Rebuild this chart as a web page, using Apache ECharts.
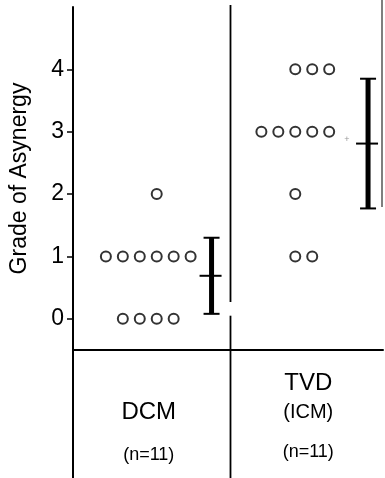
<!DOCTYPE html>
<html>
<head>
<meta charset="utf-8">
<script src="https://cdn.jsdelivr.net/npm/echarts@6/dist/echarts.min.js"></script>
<style>
  html, body { margin: 0; padding: 0; background: #fff; }
  #chart { width: 385px; height: 478px; }
</style>
</head>
<body>
<div id="chart"></div>
<script>
// data
const groups = ['DCM', 'TVD'];
const groupSubtitles = ['', '(ICM)'];
const groupCounts = ['(n=11)', '(n=11)'];
const dcmGrades = [0, 0, 0, 0, 1, 1, 1, 1, 1, 1, 2];
const tvdGrades = [1, 1, 2, 3, 3, 3, 3, 3, 4, 4, 4];
const groupMeans = [0.69, 2.81];
const groupSds = [0.61, 1.04];
const yTicks = [0, 1, 2, 3, 4];

// layout (x axis runs in pixels from the left axis)
const slotSpacing = 17;
const dcmSlotStart = 33;
const tvdSlotStart = 189;
const dcmFirstSlot = { 0: 1, 1: 0, 2: 3 };
const tvdFirstSlot = { 1: 2, 2: 2, 3: 0, 4: 2 };
const barX = [139, 296];
const groupCenterX = [76, 236];
const dividerX = 158;

const FONT = '"Liberation Sans", Arial, Helvetica, sans-serif';

function dotPoints(grades, start, firstSlot) {
  const used = {};
  return grades.map(function (g) {
    const k = used[g] || 0;
    used[g] = k + 1;
    return [start + (firstSlot[g] + k) * slotSpacing, g];
  });
}

const dots = dotPoints(dcmGrades, dcmSlotStart, dcmFirstSlot)
  .concat(dotPoints(tvdGrades, tvdSlotStart, tvdFirstSlot));

const barData = groups.map(function (g, i) {
  return [barX[i], groupMeans[i], groupMeans[i] - groupSds[i], groupMeans[i] + groupSds[i]];
});

const chart = echarts.init(document.getElementById('chart'));

chart.setOption({
  backgroundColor: '#fff',
  animation: false,
  grid: { left: 72, right: 2, top: 7, bottom: 128 },
  xAxis: {
    type: 'value',
    min: 0,
    max: 311,
    axisLine: { show: true, onZero: false, lineStyle: { color: '#000', width: 2 } },
    axisTick: { show: false },
    axisLabel: { show: false },
    splitLine: { show: false }
  },
  yAxis: {
    type: 'value',
    min: -0.5,
    max: 5,
    name: 'Grade of Asynergy',
    nameLocation: 'middle',
    nameGap: 42,
    nameTextStyle: { color: '#000', fontSize: 23, fontFamily: FONT },
    axisLine: { show: true, lineStyle: { color: '#000', width: 2 } },
    axisTick: { show: true, customValues: yTicks, length: 6, lineStyle: { color: '#000', width: 1.5 } },
    axisLabel: { show: true, customValues: yTicks, color: '#000', fontSize: 23, fontFamily: FONT, margin: 9 },
    splitLine: { show: false }
  },
  series: [
    {
      type: 'scatter',
      data: dots,
      symbol: 'circle',
      symbolSize: 10,
      itemStyle: { color: '#fff', borderColor: '#000', borderWidth: 2 },
      emphasis: { disabled: true }
    },
    {
      type: 'custom',
      data: barData,
      renderItem: function (params, api) {
        const x = api.coord([api.value(0), 0])[0];
        const yMean = api.coord([0, api.value(1)])[1];
        const yLow = api.coord([0, api.value(2)])[1];
        const yHigh = api.coord([0, api.value(3)])[1];
        const thin = { stroke: '#000', lineWidth: 2 };
        return {
          type: 'group',
          children: [
            { type: 'line', shape: { x1: x, y1: yHigh, x2: x, y2: yLow }, style: { stroke: '#000', lineWidth: 5 } },
            { type: 'line', shape: { x1: x - 8, y1: yHigh, x2: x + 8, y2: yHigh }, style: thin },
            { type: 'line', shape: { x1: x - 8, y1: yLow, x2: x + 8, y2: yLow }, style: thin },
            { type: 'line', shape: { x1: x - 12, y1: yMean, x2: x + 10, y2: yMean }, style: thin }
          ]
        };
      }
    }
  ]
});

// frame lines and the group labels below the plot
const divPx = chart.convertToPixel({ gridIndex: 0 }, [dividerX, 0.27]);
const divPx2 = chart.convertToPixel({ gridIndex: 0 }, [dividerX, 0.05]);
const leftPx = chart.convertToPixel({ gridIndex: 0 }, [0, -0.5]);
const graphics = [
  { type: 'line', shape: { x1: divPx[0], y1: 5, x2: divPx[0], y2: divPx[1] }, style: { stroke: '#000', lineWidth: 1.8 } },
  { type: 'line', shape: { x1: divPx[0], y1: divPx2[1], x2: divPx[0], y2: 478 }, style: { stroke: '#000', lineWidth: 1.8 } },
  { type: 'line', shape: { x1: leftPx[0], y1: leftPx[1], x2: leftPx[0], y2: 478 }, style: { stroke: '#000', lineWidth: 2 } },
  { type: 'line', shape: { x1: 382, y1: 0, x2: 382, y2: 207 }, style: { stroke: '#555', lineWidth: 1.5 } },
  { type: 'text', x: 347, y: 140, style: { text: '+', fill: '#999', fontSize: 9, align: 'center', verticalAlign: 'middle' } }
];
groups.forEach(function (g, i) {
  const cx = chart.convertToPixel({ gridIndex: 0 }, [groupCenterX[i], 0])[0];
  const sub = groupSubtitles[i];
  graphics.push({ type: 'text', x: cx, y: sub ? 383 : 412,
    style: { text: g, fill: '#000', fontSize: 24, fontFamily: FONT, align: 'center', verticalAlign: 'middle' } });
  if (sub) {
    graphics.push({ type: 'text', x: cx, y: 412,
      style: { text: sub, fill: '#000', fontSize: 20, fontFamily: FONT, align: 'center', verticalAlign: 'middle' } });
  }
  graphics.push({ type: 'text', x: cx, y: sub ? 452 : 455,
    style: { text: groupCounts[i], fill: '#000', fontSize: 18, fontFamily: FONT, align: 'center', verticalAlign: 'middle' } });
});
chart.setOption({ graphic: graphics });
</script>
</body>
</html>
